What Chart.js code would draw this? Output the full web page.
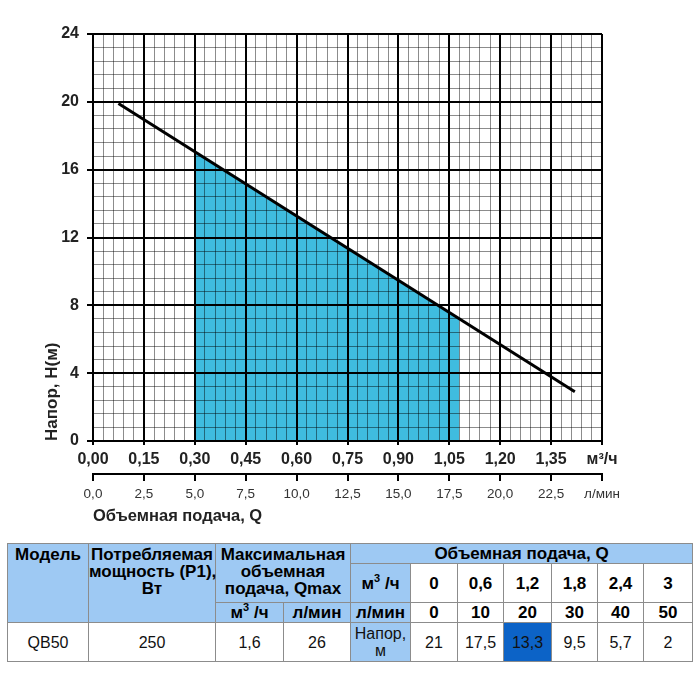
<!DOCTYPE html>
<html>
<head>
<meta charset="utf-8">
<script src="https://cdn.jsdelivr.net/npm/chart.js@4.4.1/dist/chart.umd.min.js"></script>
<style>
  body { margin: 0; background: #fff; width: 700px; height: 700px; position: relative; overflow: hidden;
         font-family: "Liberation Sans", Arial, sans-serif; }
  #chart { position: absolute; left: 0; top: 0; }
  table { position: absolute; left: 7px; top: 543px; width: 686px; border-collapse: collapse;
          table-layout: fixed; font-size: 16px; color: #111; }
  td { border: 1px solid #8c8c8c; text-align: center; padding: 0; line-height: 17px; white-space: nowrap; }
  .h { background: #9ec9f3; font-weight: bold; font-size: 17px; color: #000; }
  .top { vertical-align: top; padding-top: 2px; }
  .b { font-weight: bold; font-size: 17px; color: #000; }
  .hl { background: #0c63c7; }
  .n { font-weight: normal; font-size: 16px; color: #111; }
  sup { font-size: 11px; line-height: 0; }
</style>
</head>
<body>
<canvas id="chart" width="700" height="530"></canvas>

<table>
  <colgroup>
    <col style="width:81px"><col style="width:127px"><col style="width:68px"><col style="width:67px">
    <col style="width:60px"><col style="width:47px"><col style="width:46px"><col style="width:48px">
    <col style="width:46px"><col style="width:46px"><col style="width:49px">
  </colgroup>
  <tr style="height:20px">
    <td class="h top" rowspan="3">Модель</td>
    <td class="h top" rowspan="3">Потребляемая<br>мощность (P1),<br>Вт</td>
    <td class="h top" rowspan="2" colspan="2">Максимальная<br>объемная<br>подача, Qmax</td>
    <td class="h" colspan="7">Объемная подача, Q</td>
  </tr>
  <tr id="rowM3" style="height:39px">
    <td class="h">м<sup>3</sup> /ч</td>
  </tr>
  <tr id="rowL" style="height:20px">
    <td class="h">м<sup>3</sup> /ч</td>
    <td class="h">л/мин</td>
    <td class="h">л/мин</td>
  </tr>
  <tr id="rowHead" style="height:39px">
    <td id="model"></td>
    <td id="power"></td>
    <td id="qmaxM3"></td>
    <td id="qmaxL"></td>
    <td class="h n">Напор,<br>м</td>
  </tr>
</table>

<script>
// Кривая напора: подача (м³/ч) и напор (м)
const curveQ = [0.075, 1.42];
const curveH = [19.9, 2.9];

// Рабочая зона (закрашенная область)
const zoneQ = [0.30, 1.08];
const zoneH = [17.05, 7.2];

// Пределы шкал
const qMax = 1.5;   // м³/ч
const lMax = 25;    // л/мин
const hMax = 24;    // м

// Таблица характеристик
const model = 'QB50';
const power = '250';
const qmaxM3 = '1,6';
const qmaxL = '26';
const flowM3h = ['0', '0,6', '1,2', '1,8', '2,4', '3'];
const flowLmin = ['0', '10', '20', '30', '40', '50'];
const headTable = ['21', '17,5', '13,3', '9,5', '5,7', '2'];
const highlightCol = 2;

// Заполнение таблицы
document.getElementById('model').textContent = model;
document.getElementById('power').textContent = power;
document.getElementById('qmaxM3').textContent = qmaxM3;
document.getElementById('qmaxL').textContent = qmaxL;

function addCells(rowId, values, cls, hl) {
    const row = document.getElementById(rowId);
    values.forEach((v, i) => {
        const td = document.createElement('td');
        td.textContent = v;
        if (cls) td.className = cls;
        if (hl && i === highlightCol) td.classList.add('hl');
        row.appendChild(td);
    });
}
addCells('rowM3', flowM3h, 'b', false);
addCells('rowL', flowLmin, 'b', false);
addCells('rowHead', headTable, '', true);

// Сетка: каждая пятая линия основная (чёрная), остальные полупрозрачные
const isMajor = ctx => ctx.index % 5 === 0;
const gridColor = ctx => isMajor(ctx) ? '#000' : 'rgba(0,0,0,0.45)';
const gridWidth = ctx => isMajor(ctx) ? 2 : 1;
const tickColor = ctx => isMajor(ctx) ? '#000' : 'rgba(0,0,0,0)';

const family = '"Liberation Sans", Arial, sans-serif';
const tickFont = { family: family, size: 16, weight: 'bold' };
const titleFont = { family: family, size: 16.5, weight: 'bold' };

new Chart(document.getElementById('chart'), {
    type: 'line',
    data: {
        datasets: [
            {
                data: curveQ.map((q, i) => ({ x: q, y: curveH[i] })),
                borderColor: '#000',
                borderWidth: 3,
                pointRadius: 0,
                fill: false
            },
            {
                data: zoneQ.map((q, i) => ({ x: q, y: zoneH[i] })),
                borderColor: 'rgba(0,0,0,0)',
                borderWidth: 0,
                pointRadius: 0,
                backgroundColor: '#3fbcdf',
                fill: 'origin'
            }
        ]
    },
    options: {
        responsive: false,
        animation: false,
        layout: { padding: { left: 0, top: 34, right: 98, bottom: 0 } },
        plugins: {
            legend: { display: false },
            tooltip: { enabled: false },
            filler: { drawTime: 'beforeDraw' } // заливка под сеткой
        },
        scales: {
            x: {
                type: 'linear',
                position: 'bottom',
                weight: 0,
                min: 0,
                max: qMax,
                ticks: {
                    stepSize: 0.03,
                    autoSkip: false,
                    maxRotation: 0,
                    padding: 5,
                    color: '#222',
                    font: tickFont,
                    callback: (v, i) => {
                        if (i % 5 !== 0) return '';
                        if (Math.abs(v - qMax) < 1e-6) return 'м³/ч';
                        return v.toFixed(2).replace('.', ',');
                    }
                },
                grid: { color: gridColor, lineWidth: gridWidth, tickLength: 4, tickColor: tickColor },
                border: { color: '#000', width: 2 },
                afterFit: s => { s.height = 33; }
            },
            x2: {
                type: 'linear',
                position: 'bottom',
                weight: 1,
                min: 0,
                max: lMax,
                ticks: {
                    stepSize: 2.5,
                    autoSkip: false,
                    maxRotation: 0,
                    padding: 5,
                    color: '#333',
                    font: { family: family, size: 13.5 },
                    callback: v => Math.abs(v - lMax) < 1e-6 ? 'л/мин' : v.toFixed(1).replace('.', ',')
                },
                grid: { drawOnChartArea: false, drawTicks: true, tickLength: 7, color: '#000', lineWidth: 2 },
                border: { color: '#000', width: 2 },
                title: {
                    display: true,
                    text: 'Объемная подача, Q',
                    align: 'start',
                    color: '#222',
                    font: titleFont,
                    padding: { top: 0, bottom: 4 }
                },
                afterFit: s => { s.height = 56; }
            },
            y: {
                type: 'linear',
                position: 'left',
                min: 0,
                max: hMax,
                ticks: {
                    stepSize: 0.8,
                    autoSkip: false,
                    padding: 8,
                    color: '#222',
                    font: tickFont,
                    callback: (v, i) => i % 5 === 0 ? Math.round(v).toString() : ''
                },
                grid: { color: gridColor, lineWidth: gridWidth, tickLength: 6, tickColor: tickColor },
                border: { color: '#000', width: 2 },
                title: {
                    display: true,
                    text: 'Напор, H(м)',
                    align: 'start',
                    color: '#222',
                    font: { family: family, size: 17, weight: 'bold' },
                    padding: { top: 42, bottom: 0 }
                },
                afterFit: s => { s.width = 93; }
            }
        }
    }
});
</script>
</body>
</html>
